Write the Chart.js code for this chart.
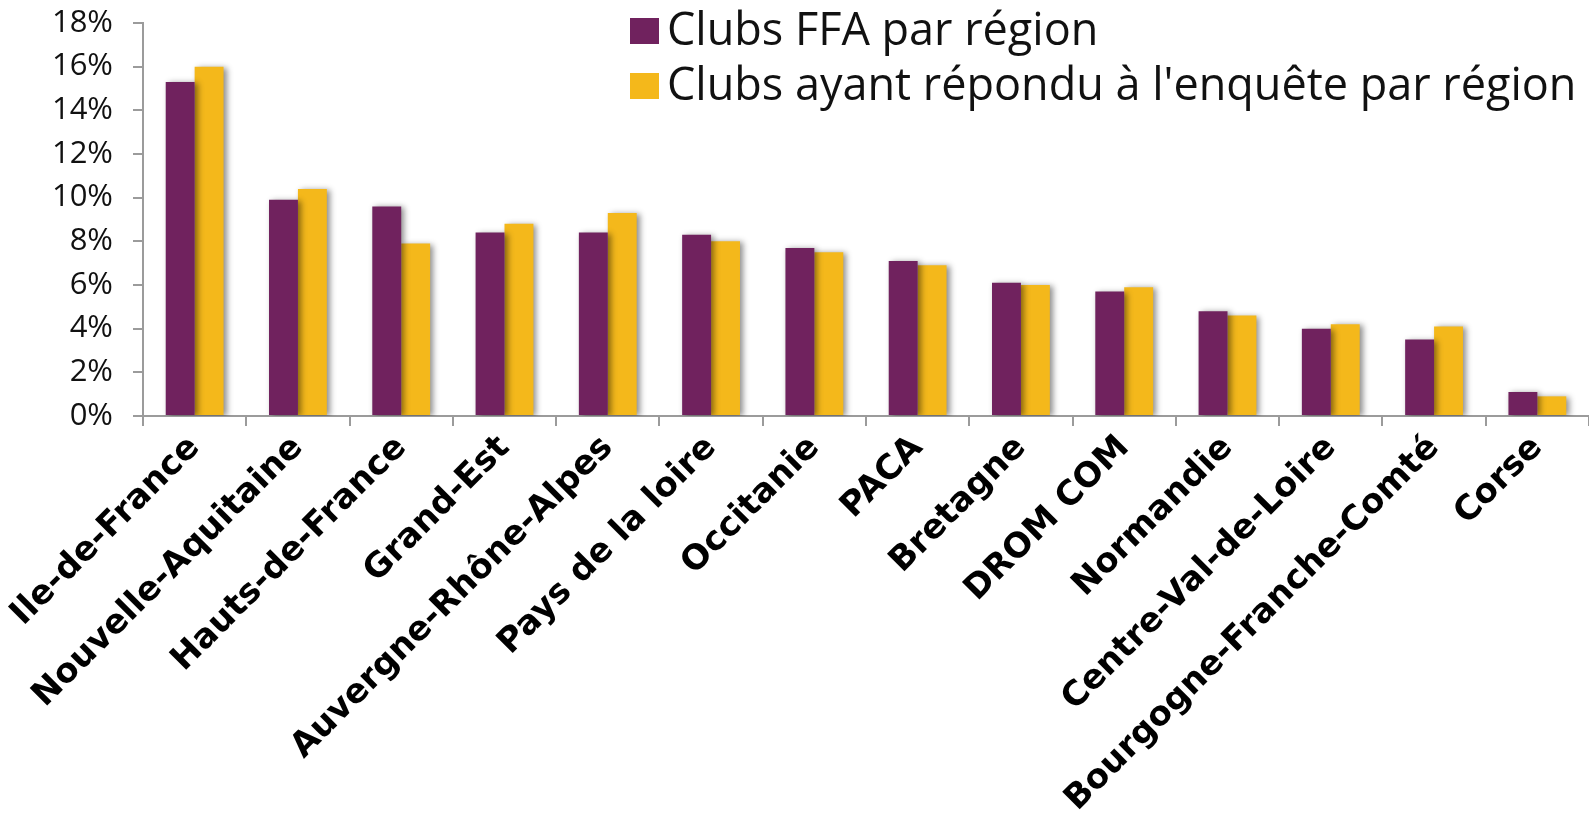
<!DOCTYPE html>
<html>
<head>
<meta charset="utf-8">
<script src="https://cdn.jsdelivr.net/npm/chart.js@4"></script>
<style>
  html, body { margin: 0; padding: 0; background: #fff; }
  #wrap { width: 1589px; height: 820px; }
</style>
</head>
<body>
<div id="wrap"><canvas id="chart1"></canvas></div>
<script>
// regions, in the order of the picture
const regions = ["Ile-de-France", "Nouvelle-Aquitaine", "Hauts-de-France", "Grand-Est",
  "Auvergne-Rhône-Alpes", "Pays de la loire", "Occitanie", "PACA", "Bretagne",
  "DROM COM", "Normandie", "Centre-Val-de-Loire", "Bourgogne-Franche-Comté", "Corse"];
// share of clubs (%)
const clubsFFA = [15.3, 9.9, 9.6, 8.4, 8.4, 8.3, 7.7, 7.1, 6.1, 5.7, 4.8, 4.0, 3.5, 1.1];
const clubsEnquete = [16.0, 10.4, 7.9, 8.8, 9.3, 8.0, 7.5, 6.9, 6.0, 5.9, 4.6, 4.2, 4.1, 0.9];
const yTicks = [0, 2, 4, 6, 8, 10, 12, 14, 16, 18];

const axisGrey = "#9b9b9b";

// soft shadow behind the bars
const barShadow = {
  id: "barShadow",
  beforeDatasetsDraw(chart) {
    const c = chart.ctx;
    c.save();
    c.shadowColor = "rgba(0,0,0,0.45)";
    c.shadowBlur = 6;
    c.shadowOffsetX = 3;
    c.shadowOffsetY = 1;
  },
  afterDatasetsDraw(chart) {
    chart.ctx.restore();
  }
};

// legend stacked in the upper right, over the plot
const stackedLegend = {
  id: "stackedLegend",
  afterDraw(chart) {
    const c = chart.ctx;
    c.save();
    c.font = "45px 'Open Sans'";
    c.textBaseline = "middle";
    chart.data.datasets.forEach(function (ds, i) {
      const y = 31 + i * 55;
      c.fillStyle = ds.backgroundColor;
      c.fillRect(630, y - 13, 29, 26);
      c.fillStyle = "#111";
      c.fillText(ds.label, 667, y + 1);
    });
    c.restore();
  }
};

const ctx = document.getElementById("chart1");
new Chart(ctx, {
  type: "bar",
  data: {
    labels: regions,
    datasets: [
      {
        label: "Clubs FFA par région",
        data: clubsFFA,
        backgroundColor: "#70225e",
        categoryPercentage: 0.56,
        barPercentage: 1.0
      },
      {
        label: "Clubs ayant répondu à l'enquête par région",
        data: clubsEnquete,
        backgroundColor: "#f4b81b",
        categoryPercentage: 0.56,
        barPercentage: 1.0
      }
    ]
  },
  options: {
    responsive: true,
    maintainAspectRatio: false,
    animation: false,
    layout: { padding: { top: 23, right: 0, bottom: 0, left: 0 } },
    plugins: {
      legend: { display: false },
      tooltip: { enabled: false }
    },
    scales: {
      x: {
        grid: {
          display: true,
          drawOnChartArea: false,
          drawTicks: true,
          tickLength: 10,
          color: axisGrey,
          lineWidth: 2
        },
        border: { color: axisGrey, width: 2 },
        ticks: {
          color: "#000",
          minRotation: 45,
          maxRotation: 45,
          padding: 2,
          font: { family: "'DejaVu Sans'", size: 34, weight: "bold" }
        },
        afterFit(scale) { scale.height = 404; }
      },
      y: {
        min: 0,
        max: 18,
        afterBuildTicks(scale) {
          scale.ticks = yTicks.map(function (v) { return { value: v }; });
        },
        grid: {
          display: true,
          drawOnChartArea: false,
          drawTicks: true,
          tickLength: 10,
          color: axisGrey,
          lineWidth: 2
        },
        border: { color: axisGrey, width: 2 },
        ticks: {
          color: "#111",
          padding: 20,
          font: { family: "'Open Sans'", size: 31 },
          callback: function (v) { return v + "%"; }
        },
        afterFit(scale) {
          scale.width = 143;
          scale.paddingTop = 0;
          scale.paddingBottom = 0;
        }
      }
    }
  },
  plugins: [barShadow, stackedLegend]
});
</script>
</body>
</html>
